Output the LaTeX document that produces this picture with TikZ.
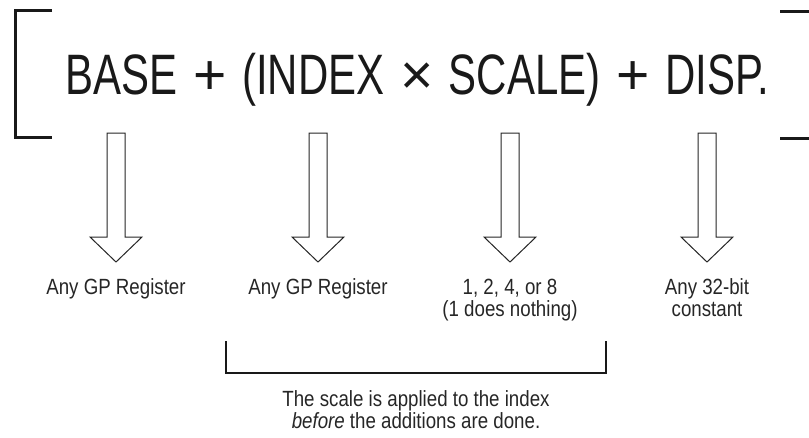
\documentclass[tikz,border=0pt]{standalone}
\usepackage{fontspec}
\setmainfont{Liberation Sans}
\newfontfamily\formulafont[FakeStretch=0.736]{Liberation Sans}
\newfontfamily\opfont{Liberation Sans}
\newfontfamily\notefont[FakeStretch=0.85]{Liberation Sans}
% operator set at full width, with a little extra room on both sides
\newcommand\formulaop[1]{\hspace{4pt} {\opfont #1} \hspace{4pt}}
\tikzset{
  formula/.style={font=\formulafont\fontsize{57}{68}\selectfont, inner sep=0pt, anchor=base, text=black!90},
  note/.style={font=\notefont\fontsize{22}{22}\selectfont, inner sep=0pt, align=center, anchor=base, text=black!85},
  bracket/.style={draw=black!90, line width=3pt, line cap=butt, line join=miter},
  underbrace/.style={draw=black!90, line width=2pt, line cap=butt, line join=miter},
  hollow/.style={draw=black!85, line width=1pt, fill=white, line join=miter},
  % hollow block arrow pointing down, drawn from the top of its shaft
  pics/hollowdown/.style={code={
    \draw[hollow] (-9,0) -- (9,0) -- (9,104) -- (26,104) -- (0,129)
                  -- (-26,104) -- (-9,104) -- cycle;
  }},
}
\begin{document}
\begin{tikzpicture}[x=1pt, y=-1pt]
\useasboundingbox (0,0) rectangle (809,437);

% the address formula and its enclosing brackets
\node[formula] (formula) at (417.5,94)
  {BASE\formulaop{+}(INDEX\formulaop{×}SCALE)\formulaop{+}DISP.};
\draw[bracket] (52,10) -- (15,10) -- (15,137.5) -- (52,137.5);
\draw[bracket] (780,11) -- (811,11) -- (811,138) -- (780,138);

% one arrow per term
\pic at (116,133) {hollowdown};
\pic at (318,133) {hollowdown};
\pic at (510,133) {hollowdown};
\pic at (707,133) {hollowdown};

% what each term may be (base anchor sits on the last line)
\node[note] (base)  at (116,294) {Any GP Register};
\node[note] (index) at (318,294) {Any GP Register};
\node[note] (scale) at (510,316) {1, 2, 4, or 8\\(1 does nothing)};
\node[note] (disp)  at (707,316) {Any 32-bit\\constant};

% index and scale grouped together
\draw[underbrace] (226,341) -- (226,373) -- (606,373) -- (606,341);
\node[note] (remark) at (416,428) {The scale is applied to the index\\\textit{before} the additions are done.};
\end{tikzpicture}
\end{document}
